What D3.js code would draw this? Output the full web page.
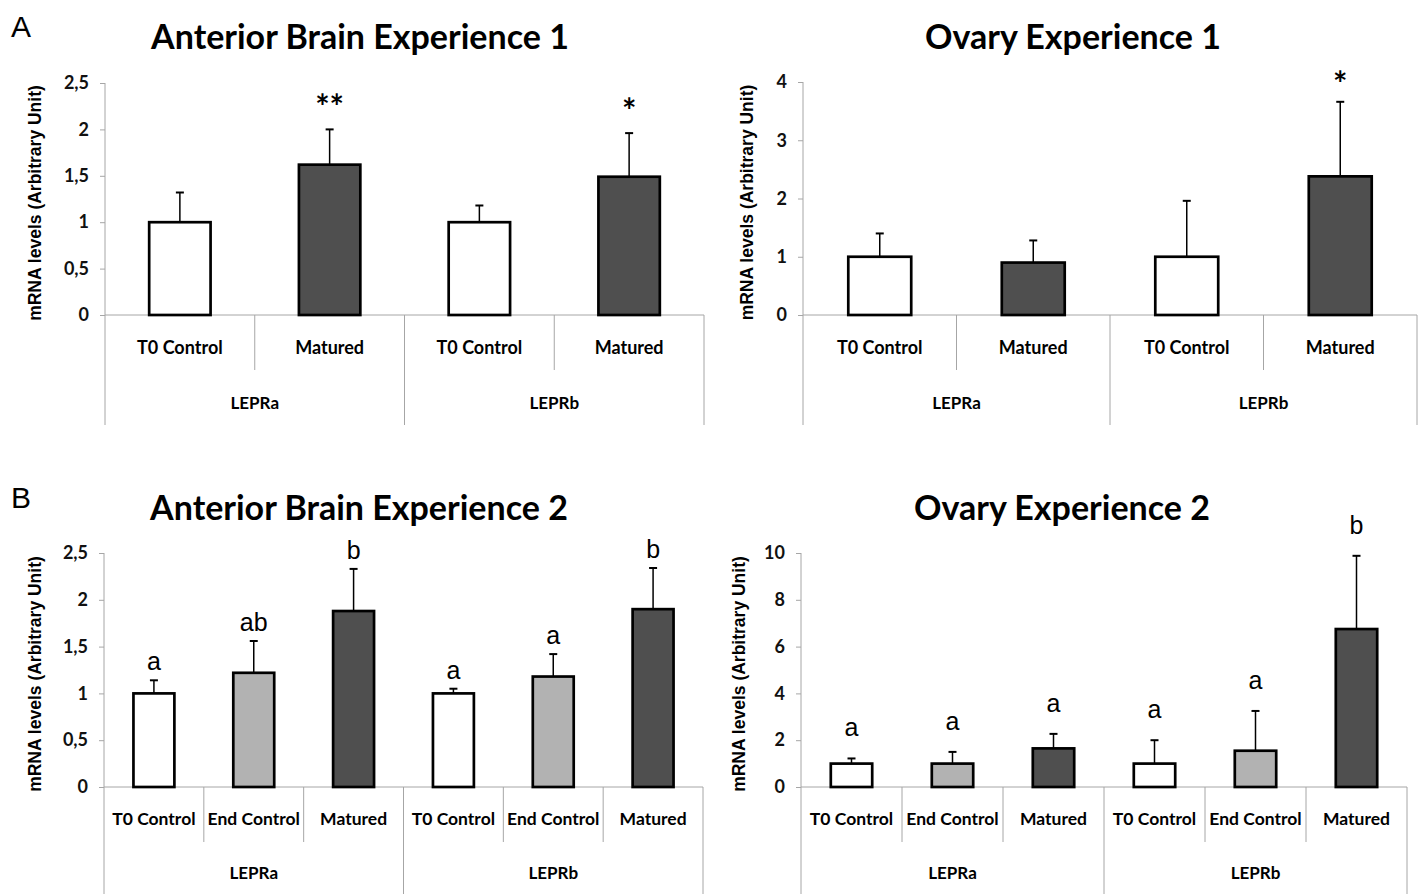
<!DOCTYPE html>
<html>
<head>
<meta charset="utf-8">
<script src="https://cdn.jsdelivr.net/npm/d3@7/dist/d3.min.js"></script>
<style>
  body { margin: 0; background: #fff; }
</style>
</head>
<body>
<div id="chart"></div>
<script>
// Categories
var groups = ["LEPRa", "LEPRb"];
var exp1Conditions = ["T0 Control", "Matured"];
var exp2Conditions = ["T0 Control", "End Control", "Matured"];

// Experience 1 values (LEPRa then LEPRb, conditions in order)
var brain1Means  = [1.0, 1.62, 1.0, 1.49];
var brain1Errors = [0.32, 0.38, 0.18, 0.47];
var brain1Marks  = ["", "**", "", "*"];

var ovary1Means  = [1.0, 0.9, 1.0, 2.38];
var ovary1Errors = [0.40, 0.38, 0.96, 1.28];
var ovary1Marks  = ["", "", "", "*"];

// Experience 2 values
var brain2Means  = [1.0, 1.22, 1.88, 1.0, 1.18, 1.9];
var brain2Errors = [0.14, 0.34, 0.45, 0.05, 0.24, 0.44];
var brain2Marks  = ["a", "ab", "b", "a", "a", "b"];

var ovary2Means  = [1.0, 1.0, 1.65, 1.0, 1.55, 6.75];
var ovary2Errors = [0.22, 0.50, 0.62, 1.0, 1.70, 3.13];
var ovary2Marks  = ["a", "a", "a", "a", "a", "b"];

// Tick values
var brainTicks = [0, 0.5, 1, 1.5, 2, 2.5];
var ovary1Ticks = [0, 1, 2, 3, 4];
var ovary2Ticks = [0, 2, 4, 6, 8, 10];

var fillColor = { "T0 Control": "#ffffff", "End Control": "#b2b2b2", "Matured": "#4f4f4f" };
var axisColor = "#a6a6a6";
var lato = "Lato, 'Noto Sans', sans-serif";
var arial = "'Liberation Sans', Arial, sans-serif";
var commaFormat = function (d) { return String(d).replace(".", ","); };

var svg = d3.select("#chart")
  .append("svg")
  .attr("width", 1423)
  .attr("height", 894);

function drawPanel(p) {
  var g = svg.append("g");

  // one entry per bar
  var cats = [];
  groups.forEach(function (gr) {
    p.conditions.forEach(function (c) { cats.push({ group: gr, cond: c }); });
  });
  cats.forEach(function (d, i) {
    d.mean = p.means[i];
    d.err = p.errors[i];
    d.mark = p.marks[i];
  });

  var x = d3.scaleBand().domain(d3.range(cats.length)).range([p.left, p.right]);
  var gx = d3.scaleBand().domain(groups).range([p.left, p.right]);
  var y = d3.scaleLinear().domain([0, p.max]).range([p.zero, p.top]);
  var bw = x.bandwidth() * 0.41;

  // title
  g.append("text")
    .attr("x", p.titleX)
    .attr("y", p.titleY)
    .attr("text-anchor", "middle")
    .style("font-family", lato)
    .style("font-size", "34px")
    .style("font-weight", "700")
    .text(p.title);

  // y axis
  var yAxis = d3.axisLeft(y)
    .tickValues(p.ticks)
    .tickSize(5)
    .tickPadding(11)
    .tickFormat(p.format);

  var ax = g.append("g")
    .attr("transform", `translate(${p.left},0)`)
    .call(yAxis);
  ax.select(".domain").remove();
  ax.selectAll(".tick line").attr("stroke", axisColor);
  ax.selectAll(".tick text")
    .style("font-family", lato)
    .style("font-size", "18px")
    .style("font-weight", "700")
    .attr("fill", "#111");

  // y axis label
  g.append("text")
    .attr("transform", `translate(${p.labelX}, ${(p.top + p.zero) / 2 + 4}) rotate(-90)`)
    .attr("text-anchor", "middle")
    .style("font-family", arial)
    .style("font-size", "17.5px")
    .style("font-weight", "700")
    .text("mRNA levels (Arbitrary Unit)");

  // axis lines
  g.append("line")
    .attr("x1", p.left).attr("x2", p.left)
    .attr("y1", y(p.max)).attr("y2", p.groupBottom)
    .attr("stroke", axisColor);
  g.append("line")
    .attr("x1", p.left).attr("x2", p.right)
    .attr("y1", p.zero).attr("y2", p.zero)
    .attr("stroke", axisColor);

  // category dividers (short) and group dividers (long)
  var n = p.conditions.length;
  d3.range(1, cats.length + 1).forEach(function (i) {
    var xx = i === cats.length ? p.right : x(i);
    g.append("line")
      .attr("x1", xx).attr("x2", xx)
      .attr("y1", p.zero)
      .attr("y2", i % n === 0 ? p.groupBottom : p.catBottom)
      .attr("stroke", axisColor);
  });

  // category labels
  g.selectAll(".cat")
    .data(cats)
    .enter().append("text")
    .attr("x", function (d, i) { return x(i) + x.bandwidth() / 2; })
    .attr("y", p.catLabelY)
    .attr("text-anchor", "middle")
    .style("font-family", lato)
    .style("font-size", p.catSize)
    .style("font-weight", "700")
    .text(function (d) { return d.cond; });

  // group labels
  g.selectAll(".grp")
    .data(groups)
    .enter().append("text")
    .attr("x", function (d) { return gx(d) + gx.bandwidth() / 2; })
    .attr("y", p.groupLabelY)
    .attr("text-anchor", "middle")
    .style("font-family", lato)
    .style("font-size", "17px")
    .style("font-weight", "700")
    .text(function (d) { return d; });

  // error bars
  cats.forEach(function (d, i) {
    var cx = x(i) + x.bandwidth() / 2;
    g.append("line")
      .attr("x1", cx).attr("x2", cx)
      .attr("y1", y(d.mean)).attr("y2", y(d.mean + d.err))
      .attr("stroke", "#000").attr("stroke-width", 1.5);
    g.append("line")
      .attr("x1", cx - 4).attr("x2", cx + 4)
      .attr("y1", y(d.mean + d.err)).attr("y2", y(d.mean + d.err))
      .attr("stroke", "#000").attr("stroke-width", 2);
  });

  // bars
  g.selectAll("rect")
    .data(cats)
    .enter().append("rect")
    .attr("x", function (d, i) { return x(i) + (x.bandwidth() - bw) / 2; })
    .attr("y", function (d) { return y(d.mean); })
    .attr("width", bw)
    .attr("height", function (d) { return p.zero - y(d.mean); })
    .attr("fill", function (d) { return fillColor[d.cond]; })
    .attr("stroke", "#000")
    .attr("stroke-width", 2.7);

  // significance marks
  g.selectAll(".mark")
    .data(cats)
    .enter().append("text")
    .attr("x", function (d, i) { return x(i) + x.bandwidth() / 2; })
    .attr("y", function (d) { return y(d.mean + d.err) - p.markGap; })
    .attr("text-anchor", "middle")
    .style("font-family", p.markFont)
    .style("font-size", p.markSize)
    .style("font-weight", p.markWeight)
    .text(function (d) { return d.mark; });
}

// panel letters
svg.append("text").attr("x", 11).attr("y", 37)
  .style("font-family", arial).style("font-size", "30px").text("A");
svg.append("text").attr("x", 11).attr("y", 508)
  .style("font-family", arial).style("font-size", "30px").text("B");

var topRow = { zero: 315, catBottom: 370, groupBottom: 425, catLabelY: 354, groupLabelY: 409, titleY: 49, catSize: "18px" };
var bottomRow = { zero: 787, catBottom: 842, groupBottom: 894, catLabelY: 825, groupLabelY: 879, titleY: 520, catSize: "17.5px" };
var starStyle = { markFont: lato, markSize: "34px", markWeight: "700" };
var letterStyle = { markFont: arial, markSize: "25px", markWeight: "400" };

drawPanel(Object.assign({
  title: "Anterior Brain Experience 1", titleX: 360,
  conditions: exp1Conditions, means: brain1Means, errors: brain1Errors, marks: brain1Marks,
  ticks: brainTicks, max: 2.5, format: commaFormat,
  left: 105, right: 704, top: 83, labelX: 41, markGap: 10
}, topRow, starStyle));

drawPanel(Object.assign({
  title: "Ovary Experience 1", titleX: 1073,
  conditions: exp1Conditions, means: ovary1Means, errors: ovary1Errors, marks: ovary1Marks,
  ticks: ovary1Ticks, max: 4, format: commaFormat,
  left: 803, right: 1417, top: 82, labelX: 753, markGap: 6
}, topRow, starStyle));

drawPanel(Object.assign({
  title: "Anterior Brain Experience 2", titleX: 359,
  conditions: exp2Conditions, means: brain2Means, errors: brain2Errors, marks: brain2Marks,
  ticks: brainTicks, max: 2.5, format: commaFormat,
  left: 104, right: 703, top: 553, labelX: 41, markGap: 10
}, bottomRow, letterStyle));

drawPanel(Object.assign({
  title: "Ovary Experience 2", titleX: 1062,
  conditions: exp2Conditions, means: ovary2Means, errors: ovary2Errors, marks: ovary2Marks,
  ticks: ovary2Ticks, max: 10, format: commaFormat,
  left: 801, right: 1407, top: 553, labelX: 745, markGap: 22
}, bottomRow, letterStyle));
</script>
</body>
</html>
